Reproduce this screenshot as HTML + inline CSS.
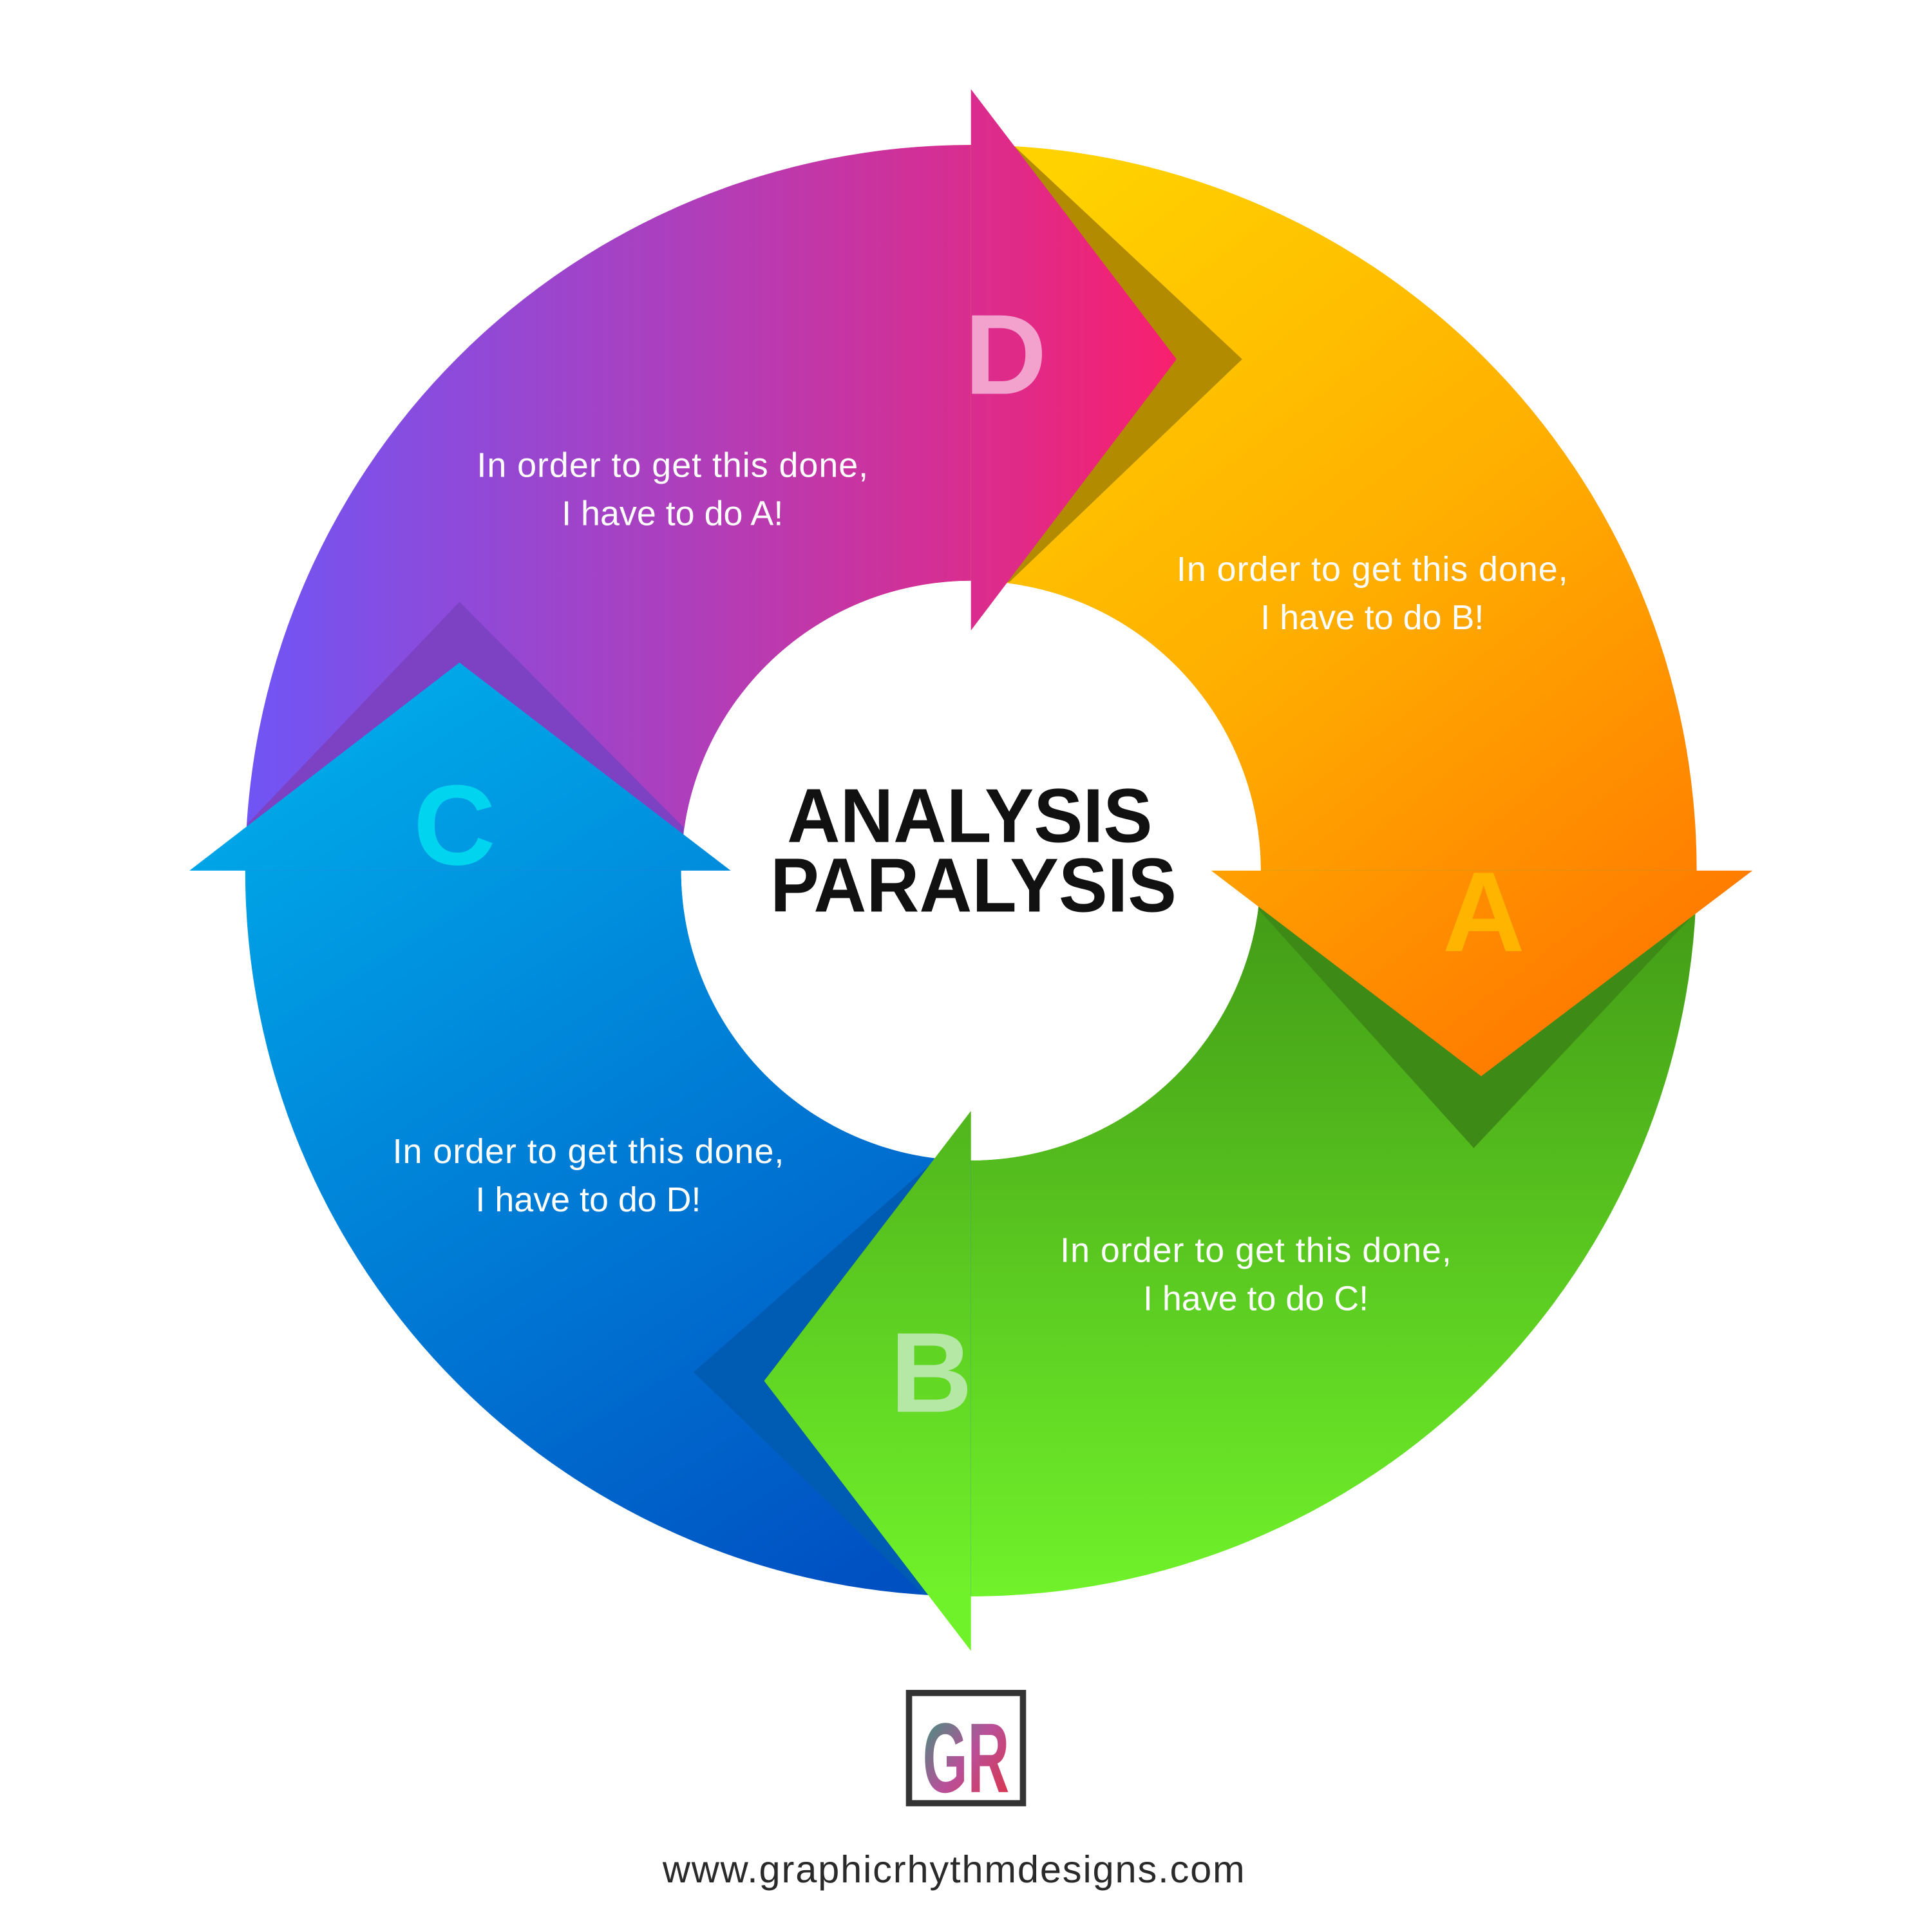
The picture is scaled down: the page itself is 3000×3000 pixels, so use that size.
<!DOCTYPE html>
<html><head><meta charset="utf-8"><style>
html,body{margin:0;padding:0;background:#fff;width:3000px;height:3000px;overflow:hidden}
svg{display:block}
</style></head><body>
<svg width="3000" height="3000" viewBox="0 0 1560 1560" xmlns="http://www.w3.org/2000/svg">
<defs>
<linearGradient id="gD" x1="200" y1="0" x2="950" y2="0" gradientUnits="userSpaceOnUse"><stop offset="0" stop-color="#7055f5"/><stop offset="0.5" stop-color="#b23db8"/><stop offset="1" stop-color="#f8206e"/></linearGradient>
<linearGradient id="gA" x1="850" y1="150" x2="1350" y2="800" gradientUnits="userSpaceOnUse"><stop offset="0" stop-color="#ffd200"/><stop offset="0.5" stop-color="#ffae00"/><stop offset="1" stop-color="#ff7800"/></linearGradient>
<linearGradient id="gB" x1="0" y1="720" x2="0" y2="1290" gradientUnits="userSpaceOnUse"><stop offset="0" stop-color="#429a16"/><stop offset="1" stop-color="#70f22a"/></linearGradient>
<linearGradient id="gC" x1="250" y1="560" x2="700" y2="1280" gradientUnits="userSpaceOnUse"><stop offset="0" stop-color="#00acea"/><stop offset="1" stop-color="#0050c2"/></linearGradient>
<linearGradient id="gGR" x1="0" y1="0" x2="1" y2="1"><stop offset="0" stop-color="#2e9e78"/><stop offset="0.5" stop-color="#b8509a"/><stop offset="1" stop-color="#e03040"/></linearGradient>
</defs>
<path d="M198 703 A586 586 0 0 1 784 117 L784 469 A234 234 0 0 0 550 703 Z" fill="url(#gD)"/>
<path d="M784 117 A586 586 0 0 1 1370 703 L1018 703 A234 234 0 0 0 784 469 Z" fill="url(#gA)"/>
<path d="M1370 703 A586 586 0 0 1 784 1289 L784 937 A234 234 0 0 0 1018 703 Z" fill="url(#gB)"/>
<path d="M784 1289 A586 586 0 0 1 198 703 L550 703 A234 234 0 0 0 784 937 Z" fill="url(#gC)"/>
<polygon points="818,117 1003,290 815,470 784,470 784,117" fill="#b38b00"/>
<polygon points="1015,733 1190,927 1368,738 1368,703 1015,703" fill="#3d8a16"/>
<polygon points="757,935 560,1108 745,1287 784,1289 784,935" fill="#005cb2"/>
<polygon points="200,665 371,486 552,668 552,703 200,703" fill="#7d42c4"/>
<circle cx="784" cy="703" r="234" fill="#fff"/>
<polygon points="784,72 950,290 784,509" fill="url(#gD)"/>
<polygon points="978,703 1415,703 1196,869" fill="url(#gA)"/>
<polygon points="784,897 784,1333 617,1115" fill="url(#gB)"/>
<polygon points="153,703 590,703 371,535" fill="url(#gC)"/>
<g font-family="Liberation Sans, sans-serif" font-weight="bold" text-anchor="middle" font-size="92">
<text x="812" y="318" fill="#f2a2cc">D</text>
<text x="1198" y="768" fill="#ffb400">A</text>
<text x="752" y="1140" fill="#b4e8a4">B</text>
<text x="367" y="698" fill="#00d4ee">C</text>
</g>
<g font-family="Liberation Sans, sans-serif" font-weight="bold" text-anchor="middle" font-size="62" fill="#111">
<text x="783" y="680" textLength="295" lengthAdjust="spacingAndGlyphs">ANALYSIS</text>
<text x="786" y="736" textLength="328" lengthAdjust="spacingAndGlyphs">PARALYSIS</text>
</g>
<g font-family="Liberation Sans, sans-serif" text-anchor="middle" font-size="28" fill="#fff">
<text x="543" y="385" textLength="316">In order to get this done,</text>
<text x="543" y="424">I have to do A!</text>
<text x="1108" y="469" textLength="316">In order to get this done,</text>
<text x="1108" y="508">I have to do B!</text>
<text x="1014" y="1019" textLength="316">In order to get this done,</text>
<text x="1014" y="1058">I have to do C!</text>
<text x="475" y="939" textLength="316">In order to get this done,</text>
<text x="475" y="978">I have to do D!</text>
</g>
<rect x="734" y="1367" width="92" height="89" fill="#fff" stroke="#333" stroke-width="5"/>
<text x="780" y="1447" text-anchor="middle" font-family="Liberation Sans, sans-serif" font-weight="bold" font-size="80" fill="url(#gGR)" textLength="70" lengthAdjust="spacingAndGlyphs">GR</text>
<text x="770" y="1520" text-anchor="middle" font-family="Liberation Sans, sans-serif" font-size="31" fill="#2a2a2a" textLength="470">www.graphicrhythmdesigns.com</text>
</svg>
</body></html>
